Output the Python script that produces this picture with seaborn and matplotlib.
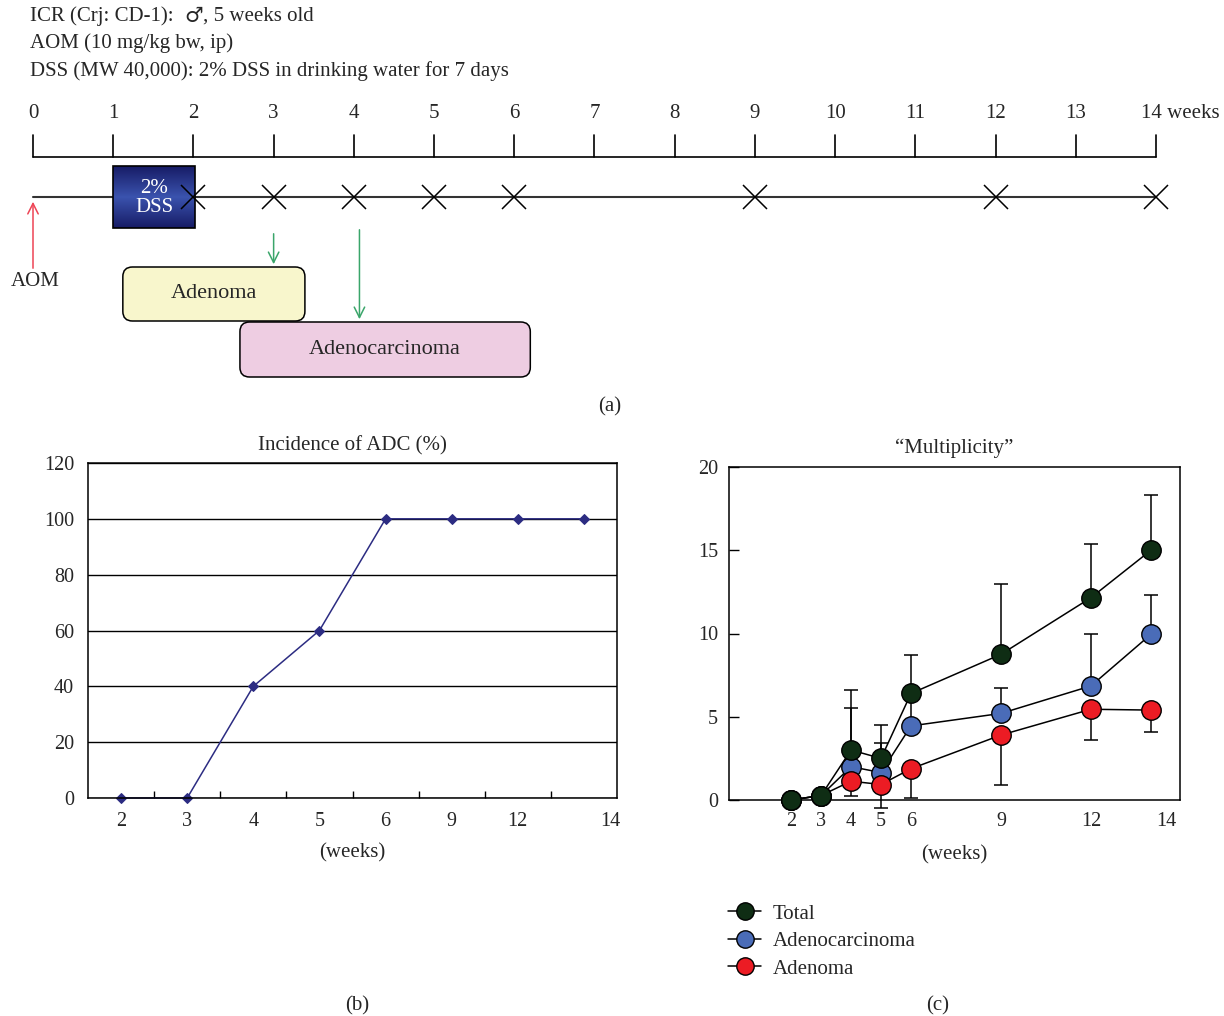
import matplotlib
matplotlib.use('Agg')
import matplotlib.pyplot as plt
from matplotlib.patches import FancyBboxPatch, Rectangle
from matplotlib.colors import LinearSegmentedColormap
from matplotlib.lines import Line2D
import numpy as np
import seaborn as sns

sns.set_theme(style='white')
plt.rcParams['font.family'] = ['Liberation Serif', 'DejaVu Serif']
plt.rcParams['font.size'] = 15

# ---- data ----
# (a) protocol
header_lines = ['ICR (Crj: CD-1):  ♂, 5 weeks old',
                'AOM (10 mg/kg bw, ip)',
                'DSS (MW 40,000): 2% DSS in drinking water for 7 days']
timeline_weeks = list(range(15))
sample_weeks = [2, 3, 4, 5, 6, 9, 12, 14]
dss_span = (1.0, 2.02)
adenoma_span = (1.12, 3.39)
adc_span = (2.58, 6.2)
arrow_weeks = [3, 4.07]

# (b) incidence of ADC
week_labels = ['2', '3', '4', '5', '6', '9', '12', '14']
adc_incidence = [0, 0, 40, 60, 100, 100, 100, 100]

# (c) multiplicity
weeks = [2, 3, 4, 5, 6, 9, 12, 14]
total = [0, 0.27, 3.0, 2.5, 6.4, 8.75, 12.15, 15.0]
total_err = [0, 0, 3.6, 2.0, 2.3, 4.2, 3.25, 3.3]
adeno_ca = [0, 0.27, 2.0, 1.65, 4.45, 5.2, 6.85, 9.95]
adeno_ca_err = [0, 0, 3.5, 1.8, 2.0, 1.5, 3.15, 2.35]
adenoma = [0, 0.27, 1.13, 0.93, 1.88, 3.9, 5.45, 5.4]
adenoma_err = [0, 0, 0.86, 1.4, 1.78, 2.97, 1.85, 1.3]

W, H = 1224, 1016
FS = 15
fig = plt.figure(figsize=(W / 100, H / 100), dpi=100)

# ---- (a) timeline, x in weeks, y in pixels ----
pxw = 80.21
ax_a = fig.add_axes([0, 1 - 420 / H, 1, 420 / H])
ax_a.axis('off')

# first header line in pieces so the male sign gets a font that has it
head_parts = header_lines[0].split('♂')
t1 = fig.text(30 / W, 1 - 16 / H, head_parts[0], ha='left', va='center', fontsize=FS)
t2 = ax_a.annotate('♂', xy=(1, 0), xycoords=t1, ha='left', va='bottom',
                   fontsize=FS, family='DejaVu Sans')
ax_a.annotate(head_parts[1], xy=(1, 0), xycoords=t2, ha='left', va='bottom', fontsize=FS)
for i, line in enumerate(header_lines[1:], start=1):
    fig.text(30 / W, 1 - (16 + 27.5 * i) / H, line, ha='left', va='center', fontsize=FS)

ax_a.plot([0, 14], [157, 157], color='black', lw=1.2)
for w in timeline_weeks:
    ax_a.plot([w, w], [135, 157], color='black', lw=1.2)
    if w < timeline_weeks[-1]:
        ax_a.text(w, 113, str(w), ha='center', va='center', fontsize=FS)
ax_a.text(timeline_weeks[-1] - 0.19, 113, f'{timeline_weeks[-1]} weeks', ha='left', va='center', fontsize=FS)

ax_a.plot([0, 14], [197, 197], color='#333333', lw=1.5, zorder=1)
grad = 1 - np.abs(np.linspace(-1, 1, 60))[:, None] * np.ones((1, 10))
cmap = LinearSegmentedColormap.from_list('dss', ['#171c66', '#3a52ad'])
ax_a.imshow(grad, cmap=cmap, extent=(dss_span[0], dss_span[1], 228, 166), aspect='auto', zorder=2)
ax_a.add_patch(Rectangle((dss_span[0], 166), dss_span[1] - dss_span[0], 62, fill=False,
                         edgecolor='black', lw=1.2, zorder=3))
ax_a.text(sum(dss_span) / 2, 198, '2%\nDSS', color='white', ha='center', va='center',
          fontsize=FS, linespacing=0.95, zorder=4)
ax_a.plot(sample_weeks, [197] * len(sample_weeks), 'x', color='black', ms=17, mew=1.1, zorder=5)

ax_a.annotate('', xy=(0, 199), xytext=(0, 271),
              arrowprops=dict(arrowstyle='->,head_length=0.5,head_width=0.25', color='#ee4455', lw=1.1))
ax_a.text(0.03, 281, 'AOM', ha='center', va='center', fontsize=FS)
ax_a.annotate('', xy=(arrow_weeks[0], 267), xytext=(arrow_weeks[0], 231),
              arrowprops=dict(arrowstyle='->,head_length=0.5,head_width=0.25', color='#3aa56a', lw=1.1))
ax_a.annotate('', xy=(arrow_weeks[1], 322), xytext=(arrow_weeks[1], 227),
              arrowprops=dict(arrowstyle='->,head_length=0.5,head_width=0.25', color='#3aa56a', lw=1.1))

for span, y0, h, fc, label in [(adenoma_span, 267, 54, '#f8f6cc', 'Adenoma'),
                              (adc_span, 322, 55, '#eecde2', 'Adenocarcinoma')]:
    box = FancyBboxPatch((span[0], y0), span[1] - span[0], h,
                         boxstyle='round,pad=0,rounding_size=0.12', mutation_aspect=pxw,
                         facecolor=fc, edgecolor='black', lw=1.1, zorder=3)
    ax_a.add_patch(box)
    ax_a.text(sum(span) / 2, y0 + h / 2, label, ha='center', va='center', fontsize=16, zorder=4)

ax_a.set_xlim(-33 / pxw, (W - 33) / pxw)
ax_a.set_ylim(420, 0)
fig.text(610 / W, 1 - 407 / H, '(a)', ha='center', va='center', fontsize=FS)

# ---- (b) incidence ----
ax_b = fig.add_axes([88 / W, 1 - 798 / H, 529 / W, 335 / H])
xb = list(range(len(week_labels)))
sns.lineplot(x=xb, y=adc_incidence, ax=ax_b, color='#2c2c82', lw=1.1, marker='D', ms=5,
             markeredgecolor='#2c2c82', clip_on=False)
ax_b.set_xlim(-0.5, 7.5)
ax_b.set_ylim(0, 120)
ax_b.set_yticks(range(0, 121, 20))
ax_b.yaxis.grid(True, color='black', lw=1)
ax_b.set_axisbelow(True)
ax_b.set_xticks(xb[:-1] + [7.4])
ax_b.set_xticklabels(week_labels)
ax_b.set_xticks([i + 0.5 for i in xb[:-1]], minor=True)
ax_b.tick_params(axis='x', which='major', length=0, pad=10, labelsize=14.5)
ax_b.tick_params(axis='x', which='minor', bottom=True, direction='in', length=5, width=1, color='black')
ax_b.tick_params(axis='y', length=0, pad=10, labelsize=14.5)
for s in ax_b.spines.values():
    s.set_color('black')
    s.set_linewidth(1.1)
ax_b.set_title('Incidence of ADC (%)', fontsize=FS, pad=9)
ax_b.set_xlabel('(weeks)', fontsize=FS, labelpad=9)
fig.text(357 / W, 1 - 1006 / H, '(b)', ha='center', va='center', fontsize=FS)

# ---- (c) multiplicity ----
ax_c = fig.add_axes([729 / W, 1 - 800 / H, 451 / W, 333 / H])
zero = [0] * len(weeks)
series = [
    ('Adenocarcinoma', adeno_ca, [zero, adeno_ca_err], '#4a6cb8', 3),
    ('Adenoma', adenoma, [adenoma_err, zero], '#ec1c24', 4),
    ('Total', total, [zero, total_err], '#0f2d14', 5),
]
for name, vals, err, col, z in series:
    eb = ax_c.errorbar(weeks, vals, yerr=err, fmt='none', ecolor='black', elinewidth=1.1,
                       capsize=5, capthick=1.1, zorder=z - 0.5)
    for art in list(eb.lines[1]) + list(eb.lines[2]):
        art.set_clip_on(False)
    sns.lineplot(x=weeks, y=vals, ax=ax_c, color='black', lw=1.1, marker='o', ms=14,
                 markerfacecolor=col, markeredgecolor='black', markeredgewidth=1,
                 zorder=z, clip_on=False)

ax_c.set_xlim(-0.07, 14.97)
ax_c.set_ylim(0, 20)
ax_c.set_yticks(range(0, 21, 5))
ax_c.set_xticks(weeks[:-1] + [14.53])
ax_c.set_xticklabels([str(w) for w in weeks])
ax_c.tick_params(axis='x', length=0, pad=9, labelsize=14.5)
ax_c.tick_params(axis='y', left=True, direction='in', length=7, width=1, color='black', pad=8, labelsize=14.5)
for s in ax_c.spines.values():
    s.set_color('black')
    s.set_linewidth(1.1)
ax_c.set_title('“Multiplicity”', fontsize=FS, pad=10)
ax_c.set_xlabel('(weeks)', fontsize=FS, labelpad=10)

handles = [Line2D([], [], color='black', lw=1.1, marker='o', ms=12.5, markerfacecolor=c,
                  markeredgecolor='black') for c in ['#0f2d14', '#4a6cb8', '#ec1c24']]
ax_c.legend(handles, ['Total', 'Adenocarcinoma', 'Adenoma'], loc='upper left',
            bbox_to_anchor=(728 / W, 1 - 904 / H), bbox_transform=fig.transFigure,
            frameon=False, handlelength=1.6, handletextpad=0.55, labelspacing=0.38,
            borderpad=0, borderaxespad=0, fontsize=FS)
fig.text(938 / W, 1 - 1006 / H, '(c)', ha='center', va='center', fontsize=FS)

fig.savefig('out.png', dpi=100)
